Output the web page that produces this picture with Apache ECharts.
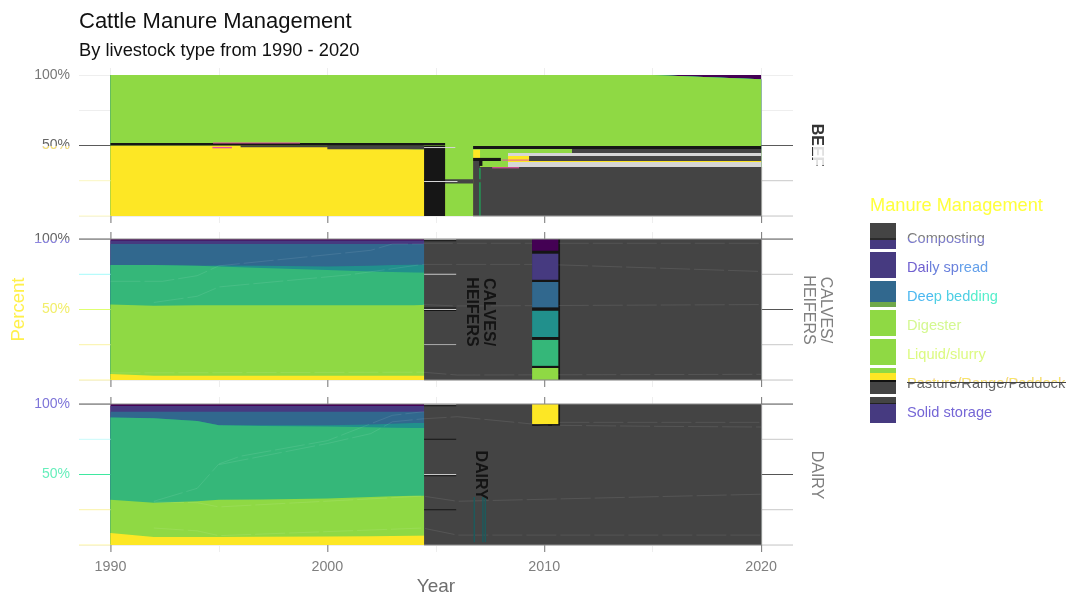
<!DOCTYPE html>
<html><head><meta charset="utf-8">
<style>html,body{margin:0;padding:0;background:#fff}#c{width:1069px;height:595px}</style>
<script src="https://cdn.jsdelivr.net/npm/echarts@6/dist/echarts.min.js"></script>
</head><body><div id="c"></div>
<script>
// ---------- data (percent of manure by year) ----------
const years = [1990,1992,1994,1995,1997,2000,2002,2003,2004,2005,2010,2015,2020];
const methods = ['Composting','Daily spread','Deep bedding','Digester','Liquid/slurry','Pasture/Range/Paddock','Solid storage'];
const panels = ['BEEF','CALVES/\nHEIFERS','DAIRY'];
const xTickLabels = [1990,2000,2010,2020];
const yTickLabels = [50,100];

const beefComposting = [0,0,0,0,0,0,0,0,0,0,0,0,3];
const beefDaily      = [0,0,0,0,0,0,0,0,0,0,0,0,0];
const beefDeep       = [0,0,0,0,0,0,0,0,0,0,0,0,0];
const beefDigester   = [0,0,0,0,0,0,0,0,0,0,0,0,0];
const beefLiquid     = [0,0,0,0,0,0,0,0,0,0,0,0,0];
const beefPasture    = [50,50,50,50,50,50.5,51.5,52,52.8,53,53,53,50];
const beefSolid      = [50,50,50,50,50,49.5,48.5,48,47.2,47,47,47,47];

const calfComposting = [1,1,1,1,1,1,1,1,1,1,1,1,1];
const calfDaily      = [2.5,2.5,2.5,2.5,2.5,2.5,2.5,2.5,2.5,2.5,2.5,2.5,2.5];
const calfDeep       = [15,15,15.5,15.2,15.5,16,15.5,15,14.7,14.5,14.5,14.5,14.5];
const calfDigester   = [0,0,0,0.8,1.5,2.5,4,4.8,5.5,6,7,8,8];
const calfLiquid     = [28,28.8,28,27.5,26.5,25,24,23.7,23.3,22.5,21,20,20];
const calfPasture    = [49.3,49.7,50,50,50,50,50,50,50,50.5,51,51,51];
const calfSolid      = [4.2,3,3,3,3,3,3,3,3,3,3,3,3];

const dairyComposting = [1.3,1.3,1.3,1.3,1.3,1.3,1.3,1.3,1.3,1.3,1.3,1.3,1.3];
const dairyDaily      = [4.2,4.2,4.2,4.2,4.2,4.2,4.2,4.2,4.2,4.2,4.2,4.2,4.2];
const dairyDeep       = [4,4.5,6.5,9.5,9.5,9.5,9,8.5,8,8,7.5,7.5,7.5];
const dairyDigester   = [0,0,0,0,0.5,1,2,2.8,3.5,3.5,4,4,4];
const dairyLiquid     = [58.5,60,57,53,52.2,51,49.5,48.7,48,48,47,47,47];
const dairyPasture    = [23.5,24.3,25.3,26.3,26.5,27,27.8,28.1,28.4,28.3,29,29,29];
const dairySolid      = [8.5,5.7,5.7,5.7,5.8,6,6.2,6.4,6.6,6.7,7,7,7];

// rendering artefacts of the reference: [yearFrom, yearTo, pctFrom, pctTo]
const beefBlack = [[2004.46,2005.43,0,49.6],[2006.72,2020,47.5,49.6],[2006.72,2008.0,39,41.2],[2007.0,2007.15,35.5,39],[1990,2005.43,50,51.7]];
const beefDark  = [[2004.46,2006.72,23,26],[2006.72,2007.04,0,39],[2007.04,2020,0,34.8],[2009.3,2020,39,42.6],[2011.28,2020,44.7,47.5],[1996,2004.4,48.8,50],[2000,2004.46,47.4,50]];
const beefLime  = [[2005.43,2006.72,0,49.6],[2007.04,2008.33,34.8,47.5],[2008.33,2011.28,44.7,47.5],[2005.43,2006.72,26,49.6]];
const beefPale  = [[2008.33,2020,34.8,38.3],[2008.33,2020,42.6,44.7],[2004.46,2005.9,48.4,48.9],[2004.46,2006,24.2,24.8]];
const beefPink  = [[2008.06,2009.3,39.3,40],[2007.6,2008.84,33.8,34.6],[1994.73,1998.74,51.6,52.2],[1994.7,1995.6,48,49]];
const beefGreen = [[2007.0,2007.03,0,24],[2007.0,2007.03,26,34]];

const calfDarkBlocks  = [[2004.46,2020,0,100]];
const calfBlackBlocks = [[2009.44,2010.73,0,100],[2004.46,2005.94,49,49.6],[2004.46,2005.94,50.8,51.4],[2004.46,2005.94,98.6,99.2],[2004.46,2005.94,24.4,25]];
const calfSwatchPurple = [[2009.44,2010.65,91.7,100]];
const calfSwatchIndigo = [[2009.44,2010.65,71.1,89.6]];
const calfSwatchBlue   = [[2009.44,2010.65,51.5,69.5]];
const calfSwatchTeal   = [[2009.44,2010.65,30.5,49.1]];
const calfSwatchGreen  = [[2009.44,2010.65,10,28.4]];
const calfSwatchLime   = [[2009.44,2010.65,0,8.5]];

const dairyDarkBlocks  = [[2004.46,2020,0,100]];
const dairyBlackBlocks = [[2009.44,2010.73,84.5,100],[2004.46,2005.94,74.6,75.4],[2004.46,2005.94,24.6,25.4],[2004.46,2005.94,49,49.5],[2004.46,2005.94,98.6,99.1]];
const dairySwatchYellow = [[2009.44,2010.65,85.8,100]];
const dairyTeal = [[2006.74,2006.76,2,34],[2007.14,2007.16,2,34],[2007.25,2007.27,2,34]];

// gridline pieces [yearFrom, yearTo, pct, pct]
const xL = 1988.55, xR = 2021.47;
const seg = (a,b,y)=>[a,b,y,y];
const beefGridDark = [seg(xL,1990,50),seg(2020,xR,50)];
const beefGridPale = [seg(xL,1990,25),seg(xL,1990,0)];
const beefGridRight = [seg(2020,xR,25),seg(2020,xR,0)];
const calfGridDark = [seg(xL,1990,100),seg(2020,xR,100),seg(2020,xR,50)];
const calfGridCyan = [seg(xL,1990,75)];
const calfGridLime = [seg(xL,1990,50)];
const calfGridPale = [seg(xL,1990,25),seg(xL,1990,0)];
const calfGridRight = [seg(2020,xR,75),seg(2020,xR,25),seg(2020,xR,0)];
const calfGridLight = [seg(2004.46,2005.94,100),seg(2004.46,2005.94,50),seg(2004.46,2005.94,75),seg(2004.46,2005.94,25)];
const calfEdge = [seg(1990,2020,100),seg(2004.46,2020,0),[2020,2020,0,100]];
const dairyGridDark = [seg(xL,1990,100),seg(2020,xR,100),seg(2020,xR,50)];
const dairyGridCyan = [seg(xL,1990,75)];
const dairyGridGreen = [seg(xL,1990,50)];
const dairyGridPale = [seg(xL,1990,25),seg(xL,1990,0)];
const dairyGridRight = [seg(2020,xR,75),seg(2020,xR,25),seg(2020,xR,0)];
const dairyGridLight = [seg(2004.46,2005.94,100),seg(2004.46,2005.94,50)];
const dairyEdge = [seg(1990,2020,100),seg(2004.46,2020,0),[2020,2020,0,100]];
const beefEdge = [seg(2006.72,2020,0),[2020,2020,0,34.8]];

// faint residual lines: [year, pct]
const calfGhostA = [[1990,70],[1992.4,70],[1994,74],[1995,81],[2002,92],[2003,96.5],[2004.4,96.5]];
const calfGhostB = [[1992,55],[1994,59.4],[1995,66],[2001,74.6],[2004.4,82],[2010,82],[2020,77]];
const calfGhostC = [[2004.4,53.5],[2006,52.5],[2020,53.5]];
const calfGhostD = [[1990,5],[2004.4,5.5],[2006,3.5],[2020,4]];
const calfGhostE = [[2004.4,97],[2020,97]];
const dairyGhostA = [[1992,31],[1994,40.2],[1995,57.5],[1996,63],[2000,74],[2003,92],[2004.4,94.5],[2020,95]];
const dairyGhostB = [[1995,57],[2000,72],[2002,79],[2003,87.4],[2004.4,89.5],[2006,91],[2010,85],[2015,84.2],[2020,83.7]];
const dairyGhostC = [[1992,30.5],[1994,30],[1995,27],[2004.4,34.7],[2006,31],[2020,36]];
const dairyGhostD = [[1992,12],[1994,10],[1995,6.6],[2004.4,12],[2006,7],[2020,7]];
const dairyGhostE = [[2010.7,87],[2020,87]];

// ---------- styling ----------
const viridis = ['#440154','#463a80','#31688e','#21908c','#35b779','#8fd944','#fde725'];
const DARK = '#444444';
const G = echarts.graphic.LinearGradient;
const vBands = stops => new G(0,0,0,1,stops.flatMap(([a,b,c])=>[{offset:a,color:c},{offset:b,color:c}]));

const gridTop = [68,232,397], gridH = 155;
const seriesData = [
 [beefComposting,beefDaily,beefDeep,beefDigester,beefLiquid,beefPasture,beefSolid],
 [calfComposting,calfDaily,calfDeep,calfDigester,calfLiquid,calfPasture,calfSolid],
 [dairyComposting,dairyDaily,dairyDeep,dairyDigester,dairyLiquid,dairyPasture,dairySolid]
];

const series = [];
// Layers are painted from the top of the pile down, each filling from its running total to the axis.
seriesData.forEach((rows,p)=>{
  rows.forEach((vals,m)=>{
    const below = rows.slice(m);
    series.push({type:'line',name:methods[m],xAxisIndex:p,yAxisIndex:p,
      data:years.map((y,k)=>[y,below.reduce((s,r)=>s+r[k],0)]),showSymbol:false,symbol:'none',smooth:false,
      lineStyle:{width:0},itemStyle:{color:viridis[m]},areaStyle:{color:viridis[m],opacity:1},
      z:3,silent:true});
  });
});
function blocks(p,color,data,z,minW){
  series.push({type:'custom',xAxisIndex:p,yAxisIndex:p,data:data,z:z,silent:true,clip:false,
    encode:{x:[0,1],y:[2,3]},
    renderItem:(params,api)=>{
      const a=api.coord([api.value(0),api.value(3)]),b=api.coord([api.value(1),api.value(2)]);
      return {type:'rect',shape:{x:a[0],y:a[1]-(a[1]===b[1]?0.5:0),width:Math.max(b[0]-a[0],minW||1),height:Math.max(b[1]-a[1],1)},style:{fill:color}};
    }});
}
function ghost(p,data,z){
  series.push({type:'line',xAxisIndex:p,yAxisIndex:p,data:data,showSymbol:false,symbol:'none',silent:true,z:z,
    lineStyle:{width:1,color:'rgba(255,255,255,0.09)',type:[30,4]}});
}
// beef
blocks(0,'#5a5a5a',beefGridDark,5);
blocks(0,'#fffbc4',beefGridPale,5);
blocks(0,'#cccccc',beefGridRight,5);
blocks(0,'#8fd944',beefLime,6);
blocks(0,DARK,beefDark,7);
blocks(0,'#161616',beefBlack,8);
blocks(0,'#d6d6d6',beefPale,8);
blocks(0,'#e84fa5',beefPink,9);
blocks(0,'#1f9a55',beefGreen,9,1.5);
blocks(0,'#999999',beefEdge,9);
// calves/heifers
ghost(1,calfGhostA,4);ghost(1,calfGhostB,8);ghost(1,calfGhostC,8);ghost(1,calfGhostD,8);ghost(1,calfGhostE,8);
blocks(1,DARK,calfDarkBlocks,6);
blocks(1,'#151515',calfBlackBlocks,7);
blocks(1,viridis[0],calfSwatchPurple,9);
blocks(1,viridis[1],calfSwatchIndigo,9);
blocks(1,viridis[2],calfSwatchBlue,9);
blocks(1,viridis[3],calfSwatchTeal,9);
blocks(1,viridis[4],calfSwatchGreen,9);
blocks(1,viridis[5],calfSwatchLime,9);
blocks(1,'#555555',calfGridDark,5);
blocks(1,'#a8ffff',calfGridCyan,5);
blocks(1,'#dfff70',calfGridLime,5);
blocks(1,'#fff7a8',calfGridPale,5);
blocks(1,'#cccccc',calfGridRight,5);
blocks(1,'#8c8c8c',calfEdge,10);
blocks(1,'#c8c8c8',calfGridLight,10);
// dairy
ghost(2,dairyGhostA,4);ghost(2,dairyGhostB,8);ghost(2,dairyGhostC,8);ghost(2,dairyGhostD,8);ghost(2,dairyGhostE,8);
blocks(2,DARK,dairyDarkBlocks,6);
blocks(2,'#151515',dairyBlackBlocks,7);
blocks(2,viridis[6],dairySwatchYellow,9);
blocks(2,'#1d5a5c',dairyTeal,9,1.5);
blocks(2,'#555555',dairyGridDark,5);
blocks(2,'#ccffff',dairyGridCyan,5);
blocks(2,'#3fe8a0',dairyGridGreen,5);
blocks(2,'#fff7a8',dairyGridPale,5);
blocks(2,'#cccccc',dairyGridRight,5);
blocks(2,'#8c8c8c',dairyEdge,10);
blocks(2,'#c8c8c8',dairyGridLight,10);

// major tick stubs
panels.forEach((_,p)=>{
  const st=[];xTickLabels.forEach(y=>{st.push([y,y,-5,0]);if(p>0)st.push([y,y,100,105]);});
  blocks(p,'#777777',st,5);
});

const F='"Liberation Sans",Arial,sans-serif';
const yLabelColors = [
 {100:'#777777',50:'#666666'},
 {100:'#666666',50:'#f2ee6a'},
 {100:'#7d74d8',50:'#66eebb'}
];
const LFS=14.6;
const richOf = c=>({color:c,fontSize:LFS,fontFamily:F});
const tint = (x,y,w,h,c)=>({type:'rect',x,y,z:30,shape:{width:w,height:h},style:{fill:c,blend:'lighten'}});
const option = {
  animation:false,backgroundColor:'#fff',textStyle:{fontFamily:F},
  title:[
    {text:'Cattle Manure Management',left:79,top:11,padding:0,textStyle:{fontSize:22,fontWeight:'normal',color:'#111',fontFamily:F}},
    {text:'By livestock type from 1990 - 2020',left:79,top:42,padding:0,textStyle:{fontSize:18.3,fontWeight:'normal',color:'#111',fontFamily:F}},
    {text:'Manure Management',left:870,top:197,padding:0,textStyle:{fontSize:18.2,fontWeight:'normal',color:'#ffff3c',fontFamily:F}}
  ],
  grid:gridTop.map(t=>({left:79,width:714,top:t,height:gridH,show:false,outerBoundsMode:'none',containLabel:false})),
  xAxis:gridTop.map((t,i)=>({gridIndex:i,type:'value',min:xL,max:xR,
    axisLine:{show:false},
    axisTick:{show:false,customValues:[1990,1995,2000,2005,2010,2015,2020]},
    splitLine:{show:true,lineStyle:{color:'#eeeeee',width:1}},
    axisLabel:{show:i===2,customValues:xTickLabels,margin:8,fontSize:14.3,color:'#7f7f7f',fontFamily:F,formatter:v=>String(v)},
    name:i===2?'Year':'',nameLocation:'middle',nameGap:25,nameTextStyle:{fontSize:19,color:'#6e6e6e',fontFamily:F}
  })),
  yAxis:gridTop.map((t,i)=>({gridIndex:i,type:'value',min:-5,max:105,
    axisLine:{show:false},
    axisTick:{show:false,customValues:[0,25,50,75,100]},
    splitLine:{show:true,lineStyle:{color:'#eeeeee',width:1}},
    axisLabel:{customValues:yTickLabels,margin:9,fontSize:14,fontFamily:F,padding:[4,0,0,0],
      color:v=>yLabelColors[i][v]||'#777',formatter:v=>v+'%'},
    name:i===1?'Percent':'',nameLocation:'middle',nameGap:51,nameMoveOverlap:false,nameRotate:90,
    nameTextStyle:{fontSize:18.6,color:'#fff04a',fontFamily:F}
  })),
  legend:{show:true,orient:'vertical',left:870,top:223,itemWidth:26,itemHeight:26,itemGap:3,selectedMode:false,icon:'rect',padding:0,
    textStyle:{fontSize:LFS,fontFamily:F,padding:[5,0,0,6],rich:{
      a:richOf('#7060d0'),b:richOf('#6a80dc'),c:richOf('#64a0ea'),
      d:richOf('#4cb8f0'),e:richOf('#4fcfe4'),f:richOf('#55eecb')}},
    formatter:n=>n===methods[1]?'{a|Dai}{b|ly sp}{c|read}':n===methods[2]?'{d|Dee}{e|p bed}{f|ding}':n,
    data:[
     {name:methods[0],icon:'rect',itemStyle:{color:vBands([[0,.57,DARK],[.57,.65,'#2a2a2a'],[.65,1,viridis[1]]])},textStyle:{color:'#7c7c7c'}},
     {name:methods[1],icon:'rect',itemStyle:{color:viridis[1]}},
     {name:methods[2],icon:'rect',itemStyle:{color:vBands([[0,.8,viridis[2]],[.8,1,'#6fa84a']])}},
     {name:methods[3],icon:'rect',itemStyle:{color:viridis[5]},textStyle:{color:'#d4f890'}},
     {name:methods[4],icon:'rect',itemStyle:{color:viridis[5]},textStyle:{color:'#dcfa80'}},
     {name:methods[5],icon:'rect',itemStyle:{color:vBands([[0,.2,viridis[5]],[.2,.46,viridis[6]],[.46,.54,'#111'],[.54,1,DARK]])},textStyle:{color:'#666666'}},
     {name:methods[6],icon:'rect',itemStyle:{color:vBands([[0,.24,DARK],[.24,.28,'#222'],[.28,1,viridis[1]]])},textStyle:{color:'#7566d6'}}
    ]},
  graphic:[
    {type:'text',x:816,y:145,rotation:-Math.PI/2,z:20,style:{text:panels[0],fontSize:16,fontFamily:F,fontWeight:'bold',fill:'#333',align:'center',verticalAlign:'middle'}},
    {type:'rect',x:813,y:146,z:21,shape:{width:11,height:19},style:{fill:'rgba(255,255,255,0.85)'}},
    {type:'text',x:817,y:310,rotation:-Math.PI/2,z:20,style:{text:panels[1],fontSize:16,fontFamily:F,fill:'#7f7f7f',align:'center',verticalAlign:'middle',lineHeight:17}},
    {type:'text',x:816,y:475,rotation:-Math.PI/2,z:20,style:{text:panels[2],fontSize:16,fontFamily:F,fill:'#7f7f7f',align:'center',verticalAlign:'middle'}},
    {type:'text',x:480,y:312,rotation:-Math.PI/2,z:20,style:{text:panels[1],fontSize:16,fontFamily:F,fontWeight:'bold',fill:'#141414',align:'center',verticalAlign:'middle',lineHeight:17}},
    {type:'text',x:480,y:475,rotation:-Math.PI/2,z:20,style:{text:panels[2],fontSize:16,fontFamily:F,fontWeight:'bold',fill:'#141414',align:'center',verticalAlign:'middle'}},
    // two-tone text as in the reference
    tint(905,376,164,6,'#f7e52e'),
    {type:'rect',x:907,y:382,z:31,shape:{width:159,height:1},style:{fill:'#444'}},
    tint(905,238,85,7,'#7d6fd6'),
    tint(38,146,33,7,'#f3e33a'),
    tint(30,240,41,7,'#8f86e0')
  ],
  series:series
};
echarts.init(document.getElementById('c'),null,{renderer:'canvas'}).setOption(option);
</script></body></html>
